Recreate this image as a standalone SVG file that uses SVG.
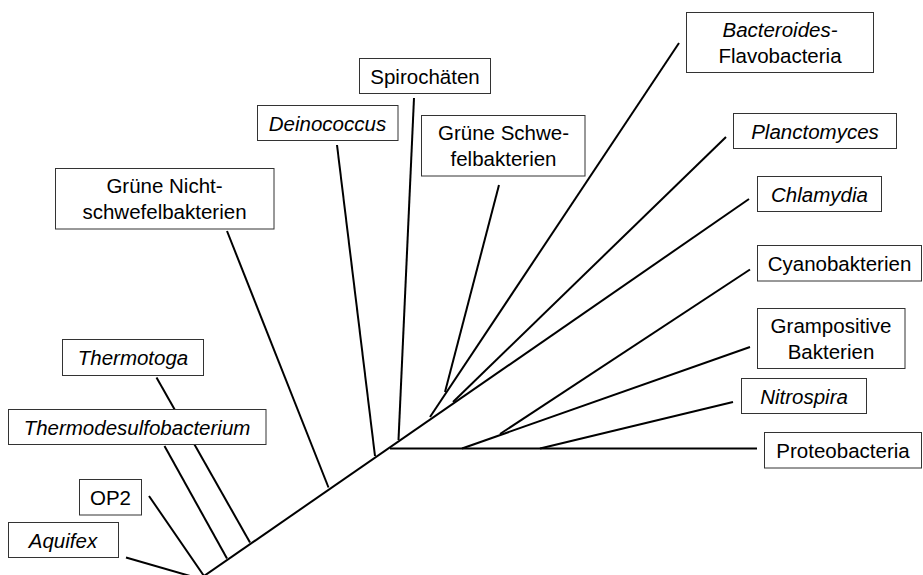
<svg xmlns="http://www.w3.org/2000/svg" width="923" height="575" viewBox="0 0 923 575">
<style>
  .edge { stroke: #000; stroke-width: 2; fill: none; stroke-linecap: butt; }
  .box { fill: #fff; stroke: #333; stroke-width: 1; }
  .lbl { font-family: "Liberation Sans", Arial, sans-serif; font-size: 20.5px; fill: #000; text-anchor: middle; }
  .it { font-style: italic; }
</style>
<rect x="0" y="0" width="923" height="575" fill="#fff"/>
<g id="connectors">
  <!-- main trunk -->
  <line class="edge" x1="204" y1="576" x2="749" y2="199"/>
  <!-- root leaves -->
  <line class="edge" x1="126" y1="557.5" x2="204" y2="580"/>
  <line class="edge" x1="149" y1="496" x2="204" y2="576"/>
  <line class="edge" x1="164.5" y1="446" x2="227" y2="558.5"/>
  <line class="edge" x1="156.5" y1="377.5" x2="250" y2="542.5"/>
  <line class="edge" x1="227" y1="231" x2="328.5" y2="487.5"/>
  <line class="edge" x1="337" y1="145" x2="375" y2="456"/>
  <line class="edge" x1="414" y1="98" x2="398.5" y2="440"/>
  <line class="edge" x1="679" y1="43" x2="430" y2="417"/>
  <line class="edge" x1="499" y1="185" x2="445" y2="392"/>
  <line class="edge" x1="726" y1="137" x2="453" y2="402"/>
  <!-- proteobacteria side -->
  <line class="edge" x1="390" y1="448.5" x2="757" y2="448.5"/>
  <line class="edge" x1="462" y1="448.5" x2="750" y2="347"/>
  <line class="edge" x1="500" y1="434" x2="750" y2="269.5"/>
  <line class="edge" x1="540" y1="448.5" x2="733" y2="402"/>
</g>
<g id="bacteroides">
  <rect class="box" x="686.5" y="12.5" width="187" height="60"/>
  <text class="lbl it" x="780" y="37">Bacteroides-</text>
  <text class="lbl" x="780" y="62.5">Flavobacteria</text>
</g>
<g id="planctomyces">
  <rect class="box" x="733.5" y="113.5" width="163" height="35"/>
  <text class="lbl it" x="815" y="138.5">Planctomyces</text>
</g>
<g id="chlamydia">
  <rect class="box" x="757.5" y="176.5" width="124" height="35"/>
  <text class="lbl it" x="819.5" y="201.5">Chlamydia</text>
</g>
<g id="cyanobakterien">
  <rect class="box" x="757.5" y="245.5" width="164" height="35.5"/>
  <text class="lbl" x="839.5" y="271">Cyanobakterien</text>
</g>
<g id="grampositive">
  <rect class="box" x="757.5" y="308.5" width="147.5" height="60"/>
  <text class="lbl" x="831" y="333">Grampositive</text>
  <text class="lbl" x="831" y="358.5">Bakterien</text>
</g>
<g id="nitrospira">
  <rect class="box" x="741.5" y="378.5" width="125" height="35"/>
  <text class="lbl it" x="804" y="403.5">Nitrospira</text>
</g>
<g id="proteobacteria">
  <rect class="box" x="764.5" y="432.5" width="157" height="35.5"/>
  <text class="lbl" x="843" y="458">Proteobacteria</text>
</g>
<g id="spirochaeten">
  <rect class="box" x="359.5" y="58.5" width="131" height="35"/>
  <text class="lbl" x="425" y="83.5">Spirochäten</text>
</g>
<g id="deinococcus">
  <rect class="box" x="257.5" y="105.5" width="140.5" height="35"/>
  <text class="lbl it" x="327.5" y="130.5">Deinococcus</text>
</g>
<g id="gruene-schwefel">
  <rect class="box" x="421.5" y="115.5" width="163.5" height="60.5"/>
  <text class="lbl" x="503.5" y="140">Grüne Schwe-</text>
  <text class="lbl" x="503.5" y="165.5">felbakterien</text>
</g>
<g id="gruene-nicht">
  <rect class="box" x="55.5" y="168.5" width="218.5" height="60.5"/>
  <text class="lbl" x="164.5" y="193">Grüne Nicht-</text>
  <text class="lbl" x="164.5" y="218.5">schwefelbakterien</text>
</g>
<g id="thermotoga">
  <rect class="box" x="62.5" y="339.5" width="141" height="36"/>
  <text class="lbl it" x="133" y="365">Thermotoga</text>
</g>
<g id="thermodesulfobacterium">
  <rect class="box" x="8.5" y="409.5" width="257.5" height="35"/>
  <text class="lbl it" x="137" y="434.5">Thermodesulfobacterium</text>
</g>
<g id="op2">
  <rect class="box" x="79.5" y="479.5" width="62" height="35.5"/>
  <text class="lbl" x="110.5" y="505">OP2</text>
</g>
<g id="aquifex">
  <rect class="box" x="8.5" y="522.5" width="110" height="35"/>
  <text class="lbl it" x="63" y="547.5">Aquifex</text>
</g>
</svg>
